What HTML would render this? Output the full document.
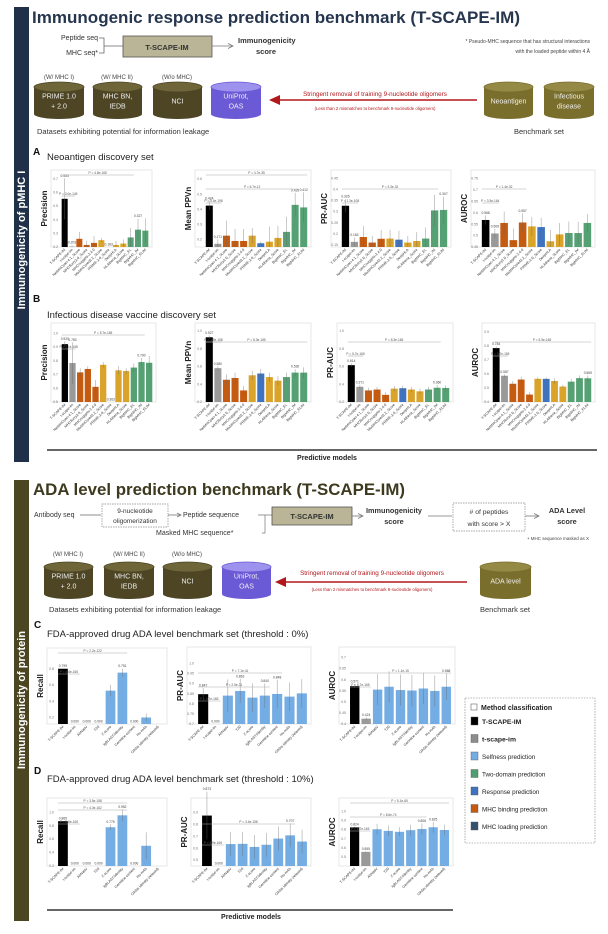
<!DOCTYPE html>
<html><head><meta charset="utf-8">
<style>
html,body{margin:0;padding:0;background:#fff;}
body{width:608px;height:934px;overflow:hidden;position:relative;font-family:"Liberation Sans",sans-serif;}
svg{position:absolute;left:0;top:0;}
text{font-family:"Liberation Sans",sans-serif;}
</style></head>
<body>
<svg id="fig" width="608" height="934" viewBox="0 0 608 934" xmlns="http://www.w3.org/2000/svg">
  <rect x="14" y="7" width="15" height="455" fill="#1f3048"/>
  <text transform="translate(25,240) rotate(-90)" text-anchor="middle" font-size="11" font-weight="bold" fill="#fff">Immunogenicity of pMHC I</text>
  <rect x="14" y="480" width="15" height="441" fill="#4b4521"/>
  <text transform="translate(25,700) rotate(-90)" text-anchor="middle" font-size="11" font-weight="bold" fill="#fff">Immunogenicity of protein</text>

  <text x="32" y="23" font-size="17" font-weight="bold" fill="#26364f" textLength="488" lengthAdjust="spacingAndGlyphs">Immunogenic response prediction benchmark (T-SCAPE-IM)</text>
  <text x="98" y="40" font-size="7" text-anchor="end" fill="#333">Peptide seq</text>
  <text x="98" y="55" font-size="7" text-anchor="end" fill="#333">MHC seq*</text>
  <path d="M99,38 H104 V53 H99 M104,46 H123" stroke="#666" stroke-width="0.8" fill="none"/>
  <rect x="123" y="36" width="89" height="21" fill="#b9b596" stroke="#555" stroke-width="0.8"/>
  <text x="167" y="50" font-size="7.5" font-weight="bold" text-anchor="middle" fill="#333">T-SCAPE-IM</text>
  <path d="M212,46 H232" stroke="#777" stroke-width="0.8"/><path d="M228,43.5 L233,46 L228,48.5" fill="none" stroke="#777" stroke-width="0.8"/>
  <text x="238" y="43" font-size="7.5" font-weight="bold" fill="#333">Immunogenicity</text>
  <text x="256" y="54" font-size="7.5" font-weight="bold" fill="#333">score</text>
  <text x="590" y="43" font-size="5" text-anchor="end" fill="#444">* Pseudo-MHC sequence that has structural interactions</text>
  <text x="590" y="53" font-size="5" text-anchor="end" fill="#444">with the loaded peptide within 4 Å</text>
  <text x="59" y="79" font-size="6" text-anchor="middle" fill="#444">(W/ MHC I)</text>
  <text x="117" y="79" font-size="6" text-anchor="middle" fill="#444">(W/ MHC II)</text>
  <text x="177" y="79" font-size="6" text-anchor="middle" fill="#444">(W/o MHC)</text>
  <path d="M477,100 H272" stroke="#b3171b" stroke-width="1.6"/>
  <path d="M280,95 L269,100 L280,105 Z" fill="#b3171b"/>
  <text x="375" y="96" font-size="6.3" text-anchor="middle" fill="#b3171b">Stringent removal of training 9-nucleotide oligomers</text>
  <text x="375" y="110" font-size="4.3" text-anchor="middle" fill="#b3171b">(Less than 2 mismatches to benchmark 9-nucleotide oligomers)</text>
  <text x="37" y="134" font-size="7.5" fill="#333">Datasets exhibiting potential for information leakage</text>
  <text x="539" y="134" font-size="7.5" text-anchor="middle" fill="#333">Benchmark set</text>

  <text x="33" y="155" font-size="10" font-weight="bold" fill="#111">A</text>
  <text x="47" y="160" font-size="9.5" fill="#222">Neoantigen discovery set</text>
  <text x="33" y="302" font-size="10" font-weight="bold" fill="#111">B</text>
  <text x="47" y="318" font-size="9.5" fill="#222">Infectious disease vaccine discovery set</text>
  <path d="M47,450 H597" stroke="#333" stroke-width="1.5"/>
  <text x="327" y="460" font-size="7" font-weight="bold" text-anchor="middle" fill="#222">Predictive models</text>

  <text x="33" y="495" font-size="17" font-weight="bold" fill="#3e3a1f" textLength="372" lengthAdjust="spacingAndGlyphs">ADA level prediction benchmark (T-SCAPE-IM)</text>
  <text x="34" y="517" font-size="7" fill="#333">Antibody seq</text>
  <path d="M80,515 H101" stroke="#666" stroke-width="0.8"/>
  <rect x="102" y="504" width="66" height="23" fill="none" stroke="#888" stroke-width="0.7" stroke-dasharray="1.5,1"/>
  <text x="135" y="513" font-size="6.5" text-anchor="middle" fill="#333">9-nucleotide</text>
  <text x="135" y="523" font-size="6.5" text-anchor="middle" fill="#333">oligomerization</text>
  <path d="M168,515 H181" stroke="#777" stroke-width="0.8"/><path d="M177,513 L181,515 L177,517" fill="none" stroke="#777" stroke-width="0.8"/>
  <text x="183" y="517" font-size="7" fill="#333">Peptide sequence</text>
  <path d="M258,515 H272 M265,515 V533 H262" stroke="#777" stroke-width="0.7" fill="none"/>
  <text x="156" y="535" font-size="7" fill="#333">Masked MHC sequence*</text>
  <rect x="272" y="507" width="80" height="18" fill="#b9b596" stroke="#555" stroke-width="0.8"/>
  <text x="312" y="519" font-size="7.5" font-weight="bold" text-anchor="middle" fill="#333">T-SCAPE-IM</text>
  <path d="M352,516 H362" stroke="#777" stroke-width="0.8"/><path d="M358,513.5 L363,516 L358,518.5" fill="none" stroke="#777" stroke-width="0.8"/>
  <text x="394" y="513" font-size="7.3" font-weight="bold" text-anchor="middle" fill="#333">Immunogenicity</text>
  <text x="394" y="524" font-size="7.3" font-weight="bold" text-anchor="middle" fill="#333">score</text>
  <path d="M428,516 H452" stroke="#777" stroke-width="0.8"/>
  <rect x="453" y="503" width="72" height="28" fill="none" stroke="#888" stroke-width="0.7" stroke-dasharray="1.5,1"/>
  <text x="489" y="514" font-size="6.8" text-anchor="middle" fill="#333"># of peptides</text>
  <text x="489" y="526" font-size="6.8" text-anchor="middle" fill="#333">with score &gt; X</text>
  <path d="M525,516 H538" stroke="#777" stroke-width="0.8"/><path d="M534,513.5 L539,516 L534,518.5" fill="none" stroke="#777" stroke-width="0.8"/>
  <text x="567" y="513" font-size="7.3" font-weight="bold" text-anchor="middle" fill="#333">ADA Level</text>
  <text x="567" y="524" font-size="7.3" font-weight="bold" text-anchor="middle" fill="#333">score</text>
  <text x="589" y="540" font-size="4.5" text-anchor="end" fill="#444">+ MHC sequence masked as X</text>
  <text x="68" y="556" font-size="6" text-anchor="middle" fill="#444">(W/ MHC I)</text>
  <text x="129" y="556" font-size="6" text-anchor="middle" fill="#444">(W/ MHC II)</text>
  <text x="187" y="556" font-size="6" text-anchor="middle" fill="#444">(W/o MHC)</text>
  <path d="M467,582 H278" stroke="#b3171b" stroke-width="1.6"/>
  <path d="M286,577 L275,582 L286,587 Z" fill="#b3171b"/>
  <text x="372" y="575" font-size="6.3" text-anchor="middle" fill="#b3171b">Stringent removal of training 9-nucleotide oligomers</text>
  <text x="372" y="591" font-size="4.3" text-anchor="middle" fill="#b3171b">(Less than 2 mismatches to benchmark 9-nucleotide oligomers)</text>
  <text x="49" y="612" font-size="7.5" fill="#333">Datasets exhibiting potential for information leakage</text>
  <text x="505" y="612" font-size="7.5" text-anchor="middle" fill="#333">Benchmark set</text>

  <text x="34" y="628" font-size="10" font-weight="bold" fill="#111">C</text>
  <text x="47" y="637" font-size="9.5" fill="#222">FDA-approved drug ADA level benchmark set (threshold : 0%)</text>
  <text x="34" y="774" font-size="10" font-weight="bold" fill="#111">D</text>
  <text x="47" y="782" font-size="9.5" fill="#222">FDA-approved drug ADA level benchmark set (threshold : 10%)</text>
  <path d="M47,910 H453" stroke="#333" stroke-width="1.5"/>
  <text x="251" y="919" font-size="7" font-weight="bold" text-anchor="middle" fill="#222">Predictive models</text>

  <rect x="465" y="698" width="130" height="145" fill="#fff" stroke="#777" stroke-width="0.6" stroke-dasharray="1.5,1.2"/>
  <rect x="471" y="704" width="6" height="6" fill="#fff" stroke="#666" stroke-width="0.6"/>
  <text x="481" y="710" font-size="7" font-weight="bold" fill="#222">Method classification</text>
  <g id="legend"></g>
</svg>
<script>
const mhcModels = ["T-SCAPE-IM","t-scape-im","NetMHCpan-4.1_Score","MHCflurry2.0_Score","MHCnuggets-2.4.0","MixMHCpred2.2_Score","PRIME-2.0_Score","DeepHLA","HLAthena_Score","BigMHC_EL","BigMHC_IM","BigMHC_ELIM"];
const mhcClasses = ["k","g","o","o","o","y","b","y","y","gr","gr","gr"];
const adaModels = ["T-SCAPE-IM","t-scape-im","AbNatiV","T20","Z-score","IgBLAST/identity","Germline content","Hu-mAb","OASis identity (relaxed)"];
const adaClasses = ["k","g","s","s","s","s","s","s","s"];

const a1Values = [0.553,0.203,0.26,0.215,0.23,0.25,0.183,0.215,0.225,0.27,0.327,0.32];
const a1Errors = [0.15,0.01,0.05,0.03,0.05,0.015,0.01,0.03,0.03,0.07,0.08,0.09];
const a2Values = [0.424,0.171,0.225,0.19,0.19,0.225,0.175,0.185,0.21,0.25,0.429,0.412];
const a2Errors = [0.03,0.03,0.1,0.08,0.08,0.05,0.01,0.1,0.08,0.1,0.08,0.1];
const a3Values = [0.326,0.163,0.185,0.16,0.177,0.178,0.173,0.16,0.167,0.178,0.305,0.307];
const a3Errors = [0.03,0.02,0.05,0.03,0.04,0.04,0.04,0.03,0.04,0.05,0.07,0.06];
const a4Values = [0.568,0.509,0.555,0.48,0.557,0.54,0.537,0.475,0.505,0.511,0.511,0.555];
const a4Errors = [0.02,0.02,0.05,0.05,0.04,0.04,0.04,0.05,0.05,0.05,0.05,0.04];
const b1Values = [0.92,0.783,0.715,0.74,0.61,0.77,0.363,0.73,0.725,0.75,0.79,0.785];
const b1Errors = [0.02,0.15,0.03,0.02,0.05,0.02,0.0,0.03,0.02,0.03,0.03,0.05];
const b2Values = [0.927,0.58,0.45,0.47,0.33,0.5,0.52,0.48,0.44,0.48,0.53,0.53];
const b2Errors = [0.02,0.02,0.06,0.06,0.05,0.05,0.05,0.05,0.05,0.05,0.04,0.06];
const b3Values = [0.614,0.371,0.33,0.34,0.28,0.35,0.355,0.34,0.32,0.34,0.36,0.358];
const b3Errors = [0.02,0.02,0.03,0.03,0.03,0.03,0.03,0.03,0.03,0.03,0.03,0.03];
const b4Values = [0.784,0.587,0.53,0.56,0.453,0.565,0.565,0.55,0.51,0.545,0.57,0.569];
const b4Errors = [0.01,0.01,0.02,0.02,0.02,0.01,0.01,0.02,0.01,0.02,0.02,0.02];
const c1Values = [0.799,0,0,0,0.53,0.751,0,0.2,0.005];
const c1Errors = [0,0,0,0,0.07,0.05,0,0.05,0.03];
const c2Values = [0.847,0,0.84,0.863,0.83,0.84,0.848,0.835,0.851];
const c2Errors = [0.03,0,0.08,0.06,0.07,0.06,0.07,0.07,0.07];
const c3Values = [0.571,0.424,0.555,0.568,0.553,0.551,0.56,0.549,0.568];
const c3Errors = [0.01,0.005,0.07,0.07,0.07,0.07,0.07,0.07,0.06];
const d1Values = [0.865,0,0,0,0.775,0.952,0,0.5,0.02];
const d1Errors = [0,0,0,0,0.04,0.09,0,0.2,0.1];
const d2Values = [0.873,0.0,0.634,0.636,0.61,0.628,0.68,0.707,0.655];
const d2Errors = [0.2,0,0.1,0.1,0.1,0.1,0.1,0.1,0.1];
const d3Values = [0.824,0.555,0.803,0.785,0.775,0.793,0.806,0.825,0.795];
const d3Errors = [0.005,0.005,0.06,0.06,0.05,0.06,0.06,0.06,0.06];

const a1Ticks=[0.2,0.3,0.4,0.5,0.6,0.7], a2Ticks=[0.2,0.3,0.4,0.5,0.6], a3Ticks=[0.15,0.2,0.25,0.3,0.35,0.4,0.45], a4Ticks=[0.45,0.5,0.55,0.6,0.65,0.7,0.75];
const b1Ticks=[0.5,0.6,0.7,0.8,0.9,1.0], b2Ticks=[0.2,0.4,0.6,0.8,1.0], b3Ticks=[0.2,0.4,0.6,0.8,1.0], b4Ticks=[0.4,0.5,0.6,0.7,0.8,0.9];
const c1Ticks=[0.2,0.4,0.6,0.8], c2Ticks=[0.7,0.75,0.8,0.85,0.9,0.95,1.0], c3Ticks=[0.4,0.45,0.5,0.55,0.6,0.65,0.7];
const d1Ticks=[0.2,0.4,0.6,0.8,1.0], d2Ticks=[0.5,0.6,0.7,0.8,0.9], d3Ticks=[0.5,0.6,0.7,0.8,0.9,1.0];

const legendLabels = ["T-SCAPE-IM","t-scape-im","Selfness prediction","Two-domain prediction","Response prediction","MHC binding prediction","MHC loading prediction"];
const legendColors = ["#000000","#8c8c8c","#74ade3","#4f9e72","#3f72bf","#c55a11","#34516f"];

const COLORS = {k:"#000000",g:"#999999",o:"#c55a11",y:"#daa32a",b:"#3f72bf",gr:"#55a173",s:"#74ade3"};
const NS="http://www.w3.org/2000/svg";
const fig=document.getElementById('fig');
function mk(tag,attrs,parent){const e=document.createElementNS(NS,tag);for(const k in attrs)e.setAttribute(k,attrs[k]);(parent||fig).appendChild(e);return e;}

function chart(id,box,yMin,yMax,ticks,cats,classes,vals,errs,ylabel,labelIdx,sigs){
  const g=mk('g',{});
  
  
  const [bx0,by0,bx1,by1]=box;
  mk('rect',{x:bx0,y:by0,width:bx1-bx0,height:by1-by0,fill:'#fff',stroke:'#e2e2e2','stroke-width':0.8},g);
  const px0=bx0+10, px1=bx1-3;
  const yS=v=>by1-(Math.max(v,yMin)-yMin)/(yMax-yMin)*(by1-by0-6);
  ticks.forEach(t=>{const tt=mk('text',{x:bx0+7,y:yS(t)+1.2,'font-size':3.5,'text-anchor':'end',fill:'#777'},g);tt.textContent=t.toFixed(2).replace(/0$/,'');});
  const yl=mk('text',{transform:`translate(${bx0-4},${(by0+by1)/2}) rotate(-90)`,'font-size':8,'font-weight':'bold','text-anchor':'middle',fill:'#222'},g);
  yl.textContent=ylabel;
  
  const n=cats.length, step=(px1-px0)/n, bw=step*0.82;
  const xS=i=>px0+step*i+step/2;
  cats.forEach((c,i)=>{
    const v=vals[i], top=yS(v);
    const r=mk('rect',{x:xS(i)-bw/2,y:top,width:bw,height:Math.max(by1-top,0),fill:COLORS[classes[i]]},g);
    
    
    if(errs[i]>0){mk('line',{x1:xS(i),x2:xS(i),y1:yS(v+errs[i]),y2:yS(v-errs[i]),stroke:'#666','stroke-width':0.35},g);}
    if(labelIdx.includes(i)){const tt=mk('text',{x:xS(i),y:Math.min(top,yS(v+errs[i]))-1.5,'font-size':3.3,'text-anchor':'middle',fill:'#444'},g);tt.textContent=v.toFixed(3);}
    const xl=mk('text',{transform:`translate(${xS(i)+1},${by1+3}) rotate(-45)`,'font-size':3.6,'text-anchor':'end',fill:'#333'},g);
    xl.textContent=c;
    
  });
  sigs.forEach(([i,j,lvl,txt])=>{
    const yy=by0+5+lvl*7;
    mk('line',{x1:xS(i)-bw/2,x2:xS(j)+bw/2,y1:yy,y2:yy,stroke:'#aaa','stroke-width':0.6},g);
    const tt=mk('text',{x:(xS(i)+xS(j))/2,y:yy-1.2,'font-size':3.2,'text-anchor':'middle',fill:'#555'},g);tt.textContent=txt;
  });
}
chart('chart-a-precision',[51,170,152,247],0.2,0.72,a1Ticks,mhcModels,mhcClasses,a1Values,a1Errors,'Precision',[0,1,6,10],[[0,9,0,'P = 4.8e-165'],[0,1,3,'P = 3.0e-145']]);
chart('chart-a-mean-ppvn',[195,170,311,247],0.15,0.62,a2Ticks,mhcModels,mhcClasses,a2Values,a2Errors,'Mean PPVn',[0,1,10,11],[[0,11,0,'P = 4.7e-35'],[0,10,2,'P = 6.7e-12'],[0,1,4,'P = 5.4e-198']]);
chart('chart-a-pr-auc',[331,170,451,247],0.14,0.46,a3Ticks,mhcModels,mhcClasses,a3Values,a3Errors,'PR-AUC',[0,1,11],[[0,10,2,'P = 3.3e-32'],[0,1,4,'P = 1.3e-108']]);
chart('chart-a-auroc',[471,170,595,247],0.45,0.76,a4Ticks,mhcModels,mhcClasses,a4Values,a4Errors,'AUROC',[0,1,4],[[0,4,2,'P = 1.4e-32'],[0,1,4,'P = 3.5e-164']]);
chart('chart-b-precision',[51,323,156,402],0.5,1.03,b1Ticks,mhcModels,mhcClasses,b1Values,b1Errors,'Precision',[0,1,6,10],[[0,10,1,'P = 5.7e-165'],[0,1,3,'P = 2.1e-158']]);
chart('chart-b-mean-ppvn',[195,323,311,402],0.2,1.02,b2Ticks,mhcModels,mhcClasses,b2Values,b2Errors,'Mean PPVn',[0,1,10],[[0,11,2,'P = 8.3e-185'],[0,1,2,'P = 1.5e-158']]);
chart('chart-b-pr-auc',[337,323,453,402],0.2,1.02,b3Ticks,mhcModels,mhcClasses,b3Values,b3Errors,'PR-AUC',[0,1,10],[[0,10,2,'P = 8.3e-165'],[0,1,4,'P = 5.7e-165']]);
chart('chart-b-auroc',[482,323,595,402],0.4,0.92,b4Ticks,mhcModels,mhcClasses,b4Values,b4Errors,'AUROC',[0,1,11],[[0,11,2,'P = 5.5e-165'],[0,1,4,'P = 5.7e-165']]);
chart('chart-c-recall',[47,648,167,724],0.12,0.98,c1Ticks,adaModels,adaClasses,c1Values,c1Errors,'Recall',[0,1,2,3,5,6],[[0,5,0,'P = 2.2e-122'],[0,1,3,'P = 4.4e-165']]);
chart('chart-c-pr-auc',[187,647,311,724],0.7,1.05,c2Ticks,adaModels,adaClasses,c2Values,c2Errors,'PR-AUC',[0,1,3,5,6],[[0,6,3,'P = 7.1e-41'],[0,5,5,'P = 2.5e-31'],[0,1,7,'P = 6.7e-165']]);
chart('chart-c-auroc',[339,647,455,724],0.4,0.72,c3Ticks,adaModels,adaClasses,c3Values,c3Errors,'AUROC',[0,1,8],[[0,8,3,'P = 1.1e-15'],[0,1,5,'P = 6.7e-165']]);
chart('chart-d-recall',[47,798,167,866],0.2,1.12,d1Ticks,adaModels,adaClasses,d1Values,d1Errors,'Recall',[0,1,2,3,4,5,6],[[0,5,0,'P = 3.5e-158'],[0,5,1,'P = 4.3e-162'],[0,1,3,'P = 5.6e-165']]);
chart('chart-d-pr-auc',[191,798,311,866],0.45,0.97,d2Ticks,adaModels,adaClasses,d2Values,d2Errors,'PR-AUC',[0,1,7],[[0,7,3,'P = 3.4e-158'],[0,1,6,'P = 4.9e-165']]);
chart('chart-d-auroc',[339,798,453,866],0.4,1.08,d3Ticks,adaModels,adaClasses,d3Values,d3Errors,'AUROC',[0,1,6,7],[[0,8,0,'P = 5.1e-65'],[0,6,2,'P = 8.6e-74'],[0,1,4,'P = 6.7e-165']]);

const lg=document.getElementById('legend');
legendLabels.forEach((l,i)=>{
  const yy=722+i*17.5;
  const r=mk('rect',{x:471,y:yy-5,width:7,height:8,fill:legendColors[i],stroke:'#555','stroke-width':0.4},lg);
  
  
  const t=mk('text',{x:482,y:yy+2,'font-size':i<2?6.8:6.3,'font-weight':i<2?'bold':'normal',fill:'#222'},lg);
  t.textContent=l;
  
  
});

function cyl(name,x,y,w,h,body,top,lines){
  const g=mk('g',{});
  
  
  const ry=5;
  mk('path',{d:`M${x},${y+ry} V${y+h-ry} A${w/2},${ry} 0 0 0 ${x+w},${y+h-ry} V${y+ry} Z`,fill:body},g);
  mk('ellipse',{cx:x+w/2,cy:y+ry,rx:w/2,ry:ry,fill:top,stroke:body,'stroke-width':0.8},g);
  lines.forEach((l,i)=>{const t=mk('text',{x:x+w/2,y:y+h/2+3+(i-(lines.length-1)/2)*10,'font-size':7,'text-anchor':'middle',fill:'#eee'},g);t.textContent=l;});
}
const OL='#4d4524', OLT='#6e6638', PU='#6b5ad6', PUT='#9d92ee', BM='#7a6e2c', BMT='#958a45';
cyl('prime-cylinder',34,82,50,37,OL,OLT,['PRIME 1.0','+ 2.0']);
cyl('mhcbn-cylinder',93,82,49,37,OL,OLT,['MHC BN,','IEDB']);
cyl('nci-cylinder',153,82,49,37,OL,OLT,['NCI']);
cyl('uniprot-cylinder',211,82,50,37,PU,PUT,['UniProt,','OAS']);
cyl('neoantigen-cylinder',484,82,49,37,BM,BMT,['Neoantigen']);
cyl('infectious-cylinder',544,82,50,37,BM,BMT,['Infectious','disease']);
cyl('prime-cylinder-2',44,562,49,37,OL,OLT,['PRIME 1.0','+ 2.0']);
cyl('mhcbn-cylinder-2',104,562,50,37,OL,OLT,['MHC BN,','IEDB']);
cyl('nci-cylinder-2',163,562,49,37,OL,OLT,['NCI']);
cyl('uniprot-cylinder-2',222,562,49,37,PU,PUT,['UniProt,','OAS']);
cyl('ada-level-cylinder',480,562,51,37,BM,BMT,['ADA level']);
</script>
</body></html>
